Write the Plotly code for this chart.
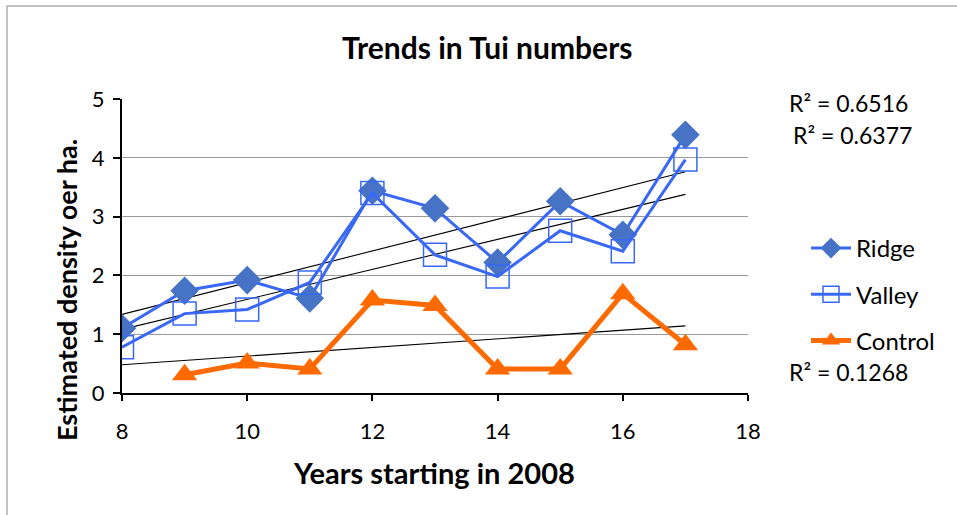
import numpy as np
import plotly.graph_objects as go

years = [8, 9, 10, 11, 12, 13, 14, 15, 16, 17]
ridge = [1.10, 1.74, 1.92, 1.61, 3.44, 3.14, 2.22, 3.26, 2.69, 4.39]
valley = [0.78, 1.35, 1.42, 1.88, 3.40, 2.35, 1.98, 2.76, 2.41, 3.97]
control_years = [9, 10, 11, 12, 13, 14, 15, 16, 17]
control = [0.31, 0.51, 0.41, 1.58, 1.49, 0.41, 0.41, 1.69, 0.82]
r2_labels = ["R² = 0.6516", "R² = 0.6377", "R² = 0.1268"]
x_ticks = [8, 10, 12, 14, 16, 18]
y_ticks = [0, 1, 2, 3, 4, 5]

FONT = "Lato"
W, H = 957, 515
L, R, T, B = 122, 748, 99, 393


def px_x(px):
    return (px - L) / (R - L)


def px_y(py):
    return (B - py) / (B - T)


def trend(xs, ys, x0, x1):
    m, c = np.polyfit(xs, ys, 1)
    return [x0, x1], [m * x0 + c, m * x1 + c]


fig = go.Figure()

for xs, ys in [(years, ridge), (years, valley), (control_years, control)]:
    tx, ty = trend(xs, ys, 8, 17)
    fig.add_trace(go.Scatter(x=tx, y=ty, mode="lines", line=dict(color="black", width=1.1),
                             showlegend=False, hoverinfo="skip"))

fig.add_trace(go.Scatter(x=years, y=ridge, name="Ridge", mode="lines+markers", legendgroup="a",
                         line=dict(color="#3868f5", width=3),
                         marker=dict(symbol="diamond", size=22, color="#4673c6",
                                     line=dict(color="#4673c6", width=0))))
fig.add_trace(go.Scatter(x=years, y=valley, name="Valley", mode="lines+markers", legendgroup="b",
                         line=dict(color="#3868f5", width=3),
                         marker=dict(symbol="square-open", size=23, color="#3868f5",
                                     line=dict(color="#3868f5", width=1.5))))
fig.add_trace(go.Scatter(x=control_years, y=control, name="Control", mode="lines+markers", legendgroup="c",
                         line=dict(color="#ff6a00", width=5),
                         marker=dict(symbol="triangle-up", size=22, color="#ff6a00")))


def ann(text, cx, cy, size, angle=0):
    return dict(text=text, x=px_x(cx), y=px_y(cy), xref="paper", yref="paper",
                xanchor="center", yanchor="middle", textangle=angle,
                showarrow=False, font=dict(size=size, color="black", family=FONT))


annotations = [
    ann("<b>Trends in Tui numbers</b>", 487, 47, 30),
    ann("<b>Estimated density oer ha.</b>", 66, 290, 27, -90),
    ann("<b>Years starting in 2008</b>", 434, 472, 29),
]
for lbl, (cx, cy) in zip(r2_labels, [(848, 103), (852, 135), (848, 372)]):
    annotations.append(ann(lbl, cx, cy, 23))

fig.update_layout(
    width=W, height=H,
    margin=dict(l=L, r=W - R, t=T, b=H - B, autoexpand=False),
    paper_bgcolor="white", plot_bgcolor="white",
    font=dict(family=FONT, color="black", size=22),
    showlegend=True,
    legend=dict(x=px_x(806), y=px_y(226), xanchor="left", yanchor="top",
                font=dict(size=24, family=FONT), tracegroupgap=12, itemwidth=40,
                bgcolor="rgba(0,0,0,0)"),
    annotations=annotations,
    shapes=[dict(type="rect", xref="paper", yref="paper",
                 x0=px_x(7), x1=px_x(965), y0=px_y(540), y1=px_y(6),
                 line=dict(color="#b0b0b0", width=1.5), fillcolor="rgba(0,0,0,0)", layer="below")],
)
fig.update_xaxes(range=[8, 18], tickvals=x_ticks, ticktext=[str(v) for v in x_ticks],
                 showgrid=False, zeroline=False, showline=True, linecolor="black", linewidth=2,
                 ticks="outside", ticklen=6, tickwidth=2, tickcolor="black",
                 ticklabelstandoff=12,
                 tickfont=dict(size=22, family=FONT))
fig.update_yaxes(range=[0, 5], tickvals=y_ticks, ticktext=[str(v) for v in y_ticks],
                 showgrid=True, gridcolor="#9a9a9a", gridwidth=1, zeroline=False,
                 showline=True, linecolor="black", linewidth=2,
                 ticks="outside", ticklen=7, tickwidth=2, tickcolor="black",
                 ticklabelstandoff=4,
                 tickfont=dict(size=22, family=FONT))

fig.write_html("out.html", config={"displayModeBar": False},
               post_script="document.body.style.margin='0';document.body.style.overflow='hidden';")
